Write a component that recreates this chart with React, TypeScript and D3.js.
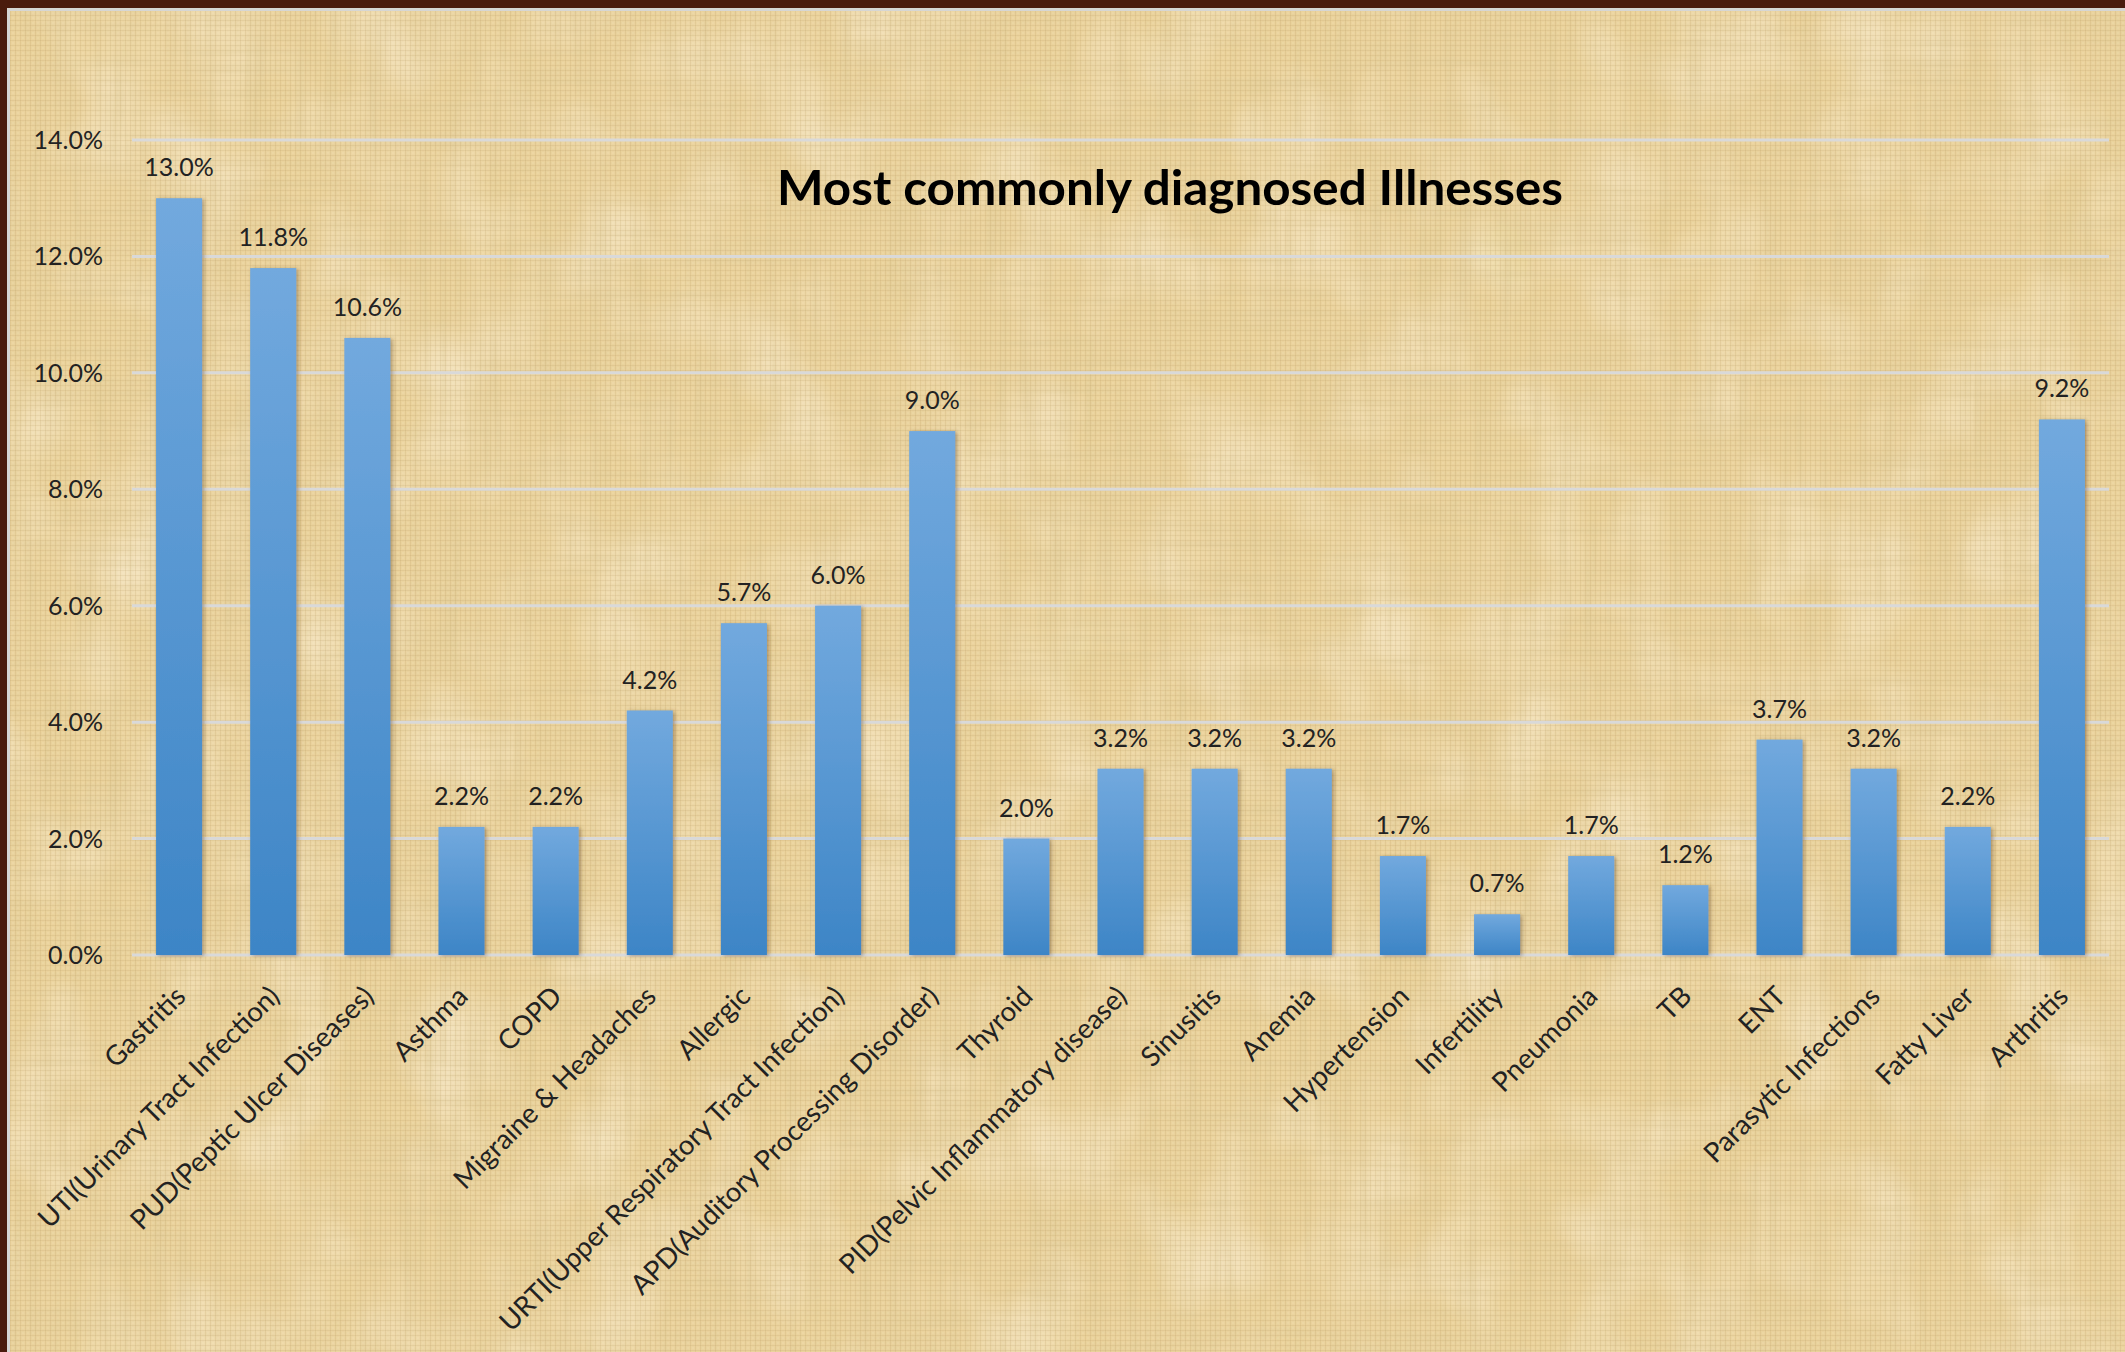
import React, { useEffect } from "react";
import * as d3 from "d3";

const categories = [
  "Gastritis",
  "UTI(Urinary Tract Infection)",
  "PUD(Peptic Ulcer Diseases)",
  "Asthma",
  "COPD",
  "Migraine & Headaches",
  "Allergic",
  "URTI(Upper Respiratory Tract Infection)",
  "APD(Auditory Processing Disorder)",
  "Thyroid",
  "PID(Pelvic Inflammatory disease)",
  "Sinusitis",
  "Anemia",
  "Hypertension",
  "Infertility",
  "Pneumonia",
  "TB",
  "ENT",
  "Parasytic Infections",
  "Fatty Liver",
  "Arthritis",
];

const values = [13.0, 11.8, 10.6, 2.2, 2.2, 4.2, 5.7, 6.0, 9.0, 2.0, 3.2, 3.2, 3.2, 1.7, 0.7, 1.7, 1.2, 3.7, 3.2, 2.2, 9.2];

const yTicks = [0, 2, 4, 6, 8, 10, 12, 14];

const title = "Most commonly diagnosed Illnesses";

const W = 2125;
const H = 1352;
const FONT = "Lato, 'Open Sans', 'Noto Sans', sans-serif";
const TEXT = "#222222";

export default function App() {
  useEffect(() => {
    document.body.style.margin = "0";
    document.body.style.overflow = "hidden";
  }, []);

  const x = d3
    .scaleBand<string>()
    .domain(categories)
    .range([132, 2109])
    .paddingInner(0.511)
    .paddingOuter(0.2555);
  const y = d3.scaleLinear().domain([0, 14]).range([955, 140]);
  const fmt = (v: number) => d3.format(".1f")(v) + "%";

  return (
    <svg width={W} height={H} style={{ position: "absolute", left: 0, top: 0, display: "block" }} fontFamily={FONT}>
      <defs>
        <filter id="blotch" x="0" y="0" width="100%" height="100%" filterUnits="userSpaceOnUse">
          <feTurbulence type="fractalNoise" baseFrequency="0.007 0.005" numOctaves="2" seed="7" />
          <feColorMatrix type="matrix" values="0 0 0 0 0.82  0 0 0 0 0.66  0 0 0 0 0.32  1.1 0 0 0 -0.48" />
        </filter>
        <filter id="vstreak" x="0" y="0" width="100%" height="100%" filterUnits="userSpaceOnUse">
          <feTurbulence type="fractalNoise" baseFrequency="0.1 0.006" numOctaves="3" seed="11" />
          <feColorMatrix type="matrix" values="0 0 0 0 0.72  0 0 0 0 0.58  0 0 0 0 0.30  0.8 0 0 0 -0.34" />
        </filter>
        <filter id="hstreak" x="0" y="0" width="100%" height="100%" filterUnits="userSpaceOnUse">
          <feTurbulence type="fractalNoise" baseFrequency="0.006 0.1" numOctaves="3" seed="23" />
          <feColorMatrix type="matrix" values="0 0 0 0 0.74  0 0 0 0 0.60  0 0 0 0 0.32  0.8 0 0 0 -0.34" />
        </filter>
        <filter id="light" x="0" y="0" width="100%" height="100%" filterUnits="userSpaceOnUse">
          <feTurbulence type="fractalNoise" baseFrequency="0.012 0.01" numOctaves="2" seed="41" />
          <feColorMatrix type="matrix" values="0 0 0 0 1  0 0 0 0 0.95  0 0 0 0 0.84  0.9 0 0 0 -0.4" />
        </filter>
        <pattern id="weave" width="5" height="5" patternUnits="userSpaceOnUse">
          <rect x="0" y="0" width="1" height="5" fill="#a8874a" opacity="0.14" />
          <rect x="0" y="0" width="5" height="1" fill="#a8874a" opacity="0.12" />
          <rect x="2" y="2" width="2" height="2" fill="#fff6dc" opacity="0.10" />
        </pattern>
        <linearGradient id="barGrad" x1="0" y1="0" x2="0" y2="1">
          <stop offset="0" stopColor="#72a9de" />
          <stop offset="1" stopColor="#3d85c6" />
        </linearGradient>
        <filter id="shadow" x="-30%" y="-5%" width="160%" height="110%">
          <feDropShadow dx="2" dy="1" stdDeviation="2" floodColor="#5a4320" floodOpacity="0.45" />
        </filter>
      </defs>

      {/* Background */}
      <rect x={0} y={0} width={W} height={H} fill="#ebd39d" />
      <rect x={0} y={0} width={W} height={H} filter="url(#blotch)" />
      <rect x={0} y={0} width={W} height={H} filter="url(#light)" />
      <rect x={0} y={0} width={W} height={H} filter="url(#vstreak)" />
      <rect x={0} y={0} width={W} height={H} filter="url(#hstreak)" />
      <rect x={0} y={0} width={W} height={H} fill="url(#weave)" />

      {/* Frame */}
      <rect x={0} y={0} width={W} height={8} fill="#4a1b0d" />
      <rect x={0} y={0} width={7} height={H} fill="#4a1b0d" />
      <rect x={7} y={8} width={W - 7} height={3} fill="#d6d6d4" />
      <rect x={7} y={8} width={3} height={H - 8} fill="#d6d6d4" />

      {/* Gridlines */}
      {yTicks.map((t) => (
        <line key={"g" + t} x1={132} x2={2109} y1={y(t)} y2={y(t)} stroke="#d9d9d9" strokeWidth={3} />
      ))}

      {/* Y tick labels */}
      {yTicks.map((t) => (
        <text key={"yt" + t} x={103} y={y(t)} dy="0.36em" textAnchor="end" fontSize={25} fill={TEXT}>
          {fmt(t)}
        </text>
      ))}

      {/* Title */}
      <text x={1170} y={205} textAnchor="middle" fontSize={48} fontWeight={700} fill="#000" textLength={786} lengthAdjust="spacingAndGlyphs">
        {title}
      </text>

      {/* Bars */}
      <g filter="url(#shadow)">
        {values.map((v, i) => (
          <rect
            key={"b" + i}
            x={x(categories[i])}
            y={y(v)}
            width={x.bandwidth()}
            height={y(0) - y(v)}
            fill="url(#barGrad)"
          />
        ))}
      </g>

      {/* Value labels */}
      {values.map((v, i) => (
        <text
          key={"v" + i}
          x={(x(categories[i]) as number) + x.bandwidth() / 2}
          y={y(v) - 22}
          textAnchor="middle"
          fontSize={25}
          fill={TEXT}
        >
          {fmt(v)}
        </text>
      ))}

      {/* Category labels */}
      {categories.map((c) => {
        const cx = (x(c) as number) + x.bandwidth() / 2;
        return (
          <text
            key={"c" + c}
            transform={`translate(${cx + 8},${y(0) + 43}) rotate(-45)`}
            textAnchor="end"
            fontSize={27.5}
            fill={TEXT}
          >
            {c}
          </text>
        );
      })}
    </svg>
  );
}
